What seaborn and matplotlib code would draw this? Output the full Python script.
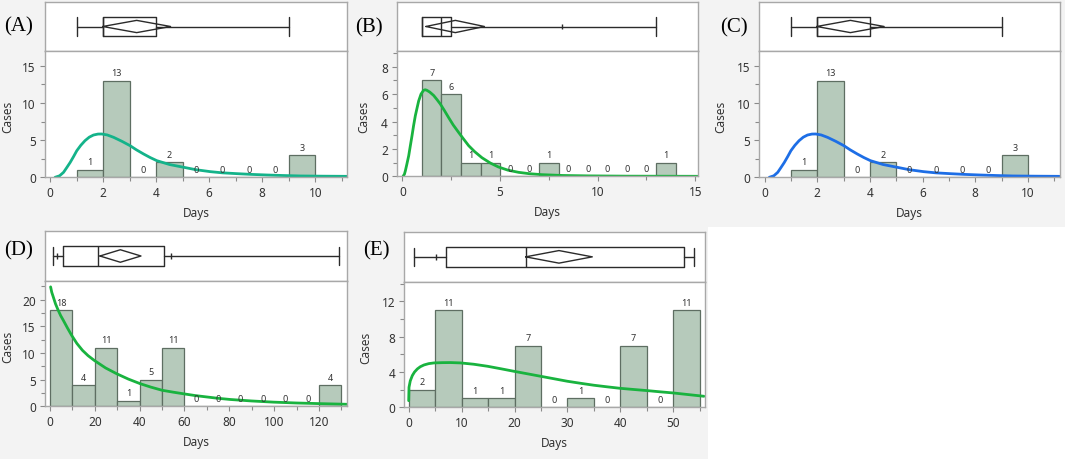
import matplotlib
matplotlib.use("Agg")
import matplotlib.pyplot as plt
from matplotlib.patches import Rectangle
from matplotlib.ticker import MultipleLocator
import seaborn as sns

# ---- values ----
# (A) and (C): same cases, different fitted curve colour
a_edges = [1, 2, 3, 4, 5, 6, 7, 8, 9, 10]
a_counts = [1, 13, 0, 2, 0, 0, 0, 0, 3]
a_curve_x = [0.18, 0.35, 0.5, 0.62, 0.75, 0.88, 1.0, 1.15, 1.31, 1.47, 1.63, 1.8, 1.94, 2.15, 2.39, 2.7,
             3.01, 3.25, 3.52, 3.77, 4.02, 4.5, 5.03, 5.5, 6.04, 6.5, 7.05, 7.6, 8.18, 8.8, 9.43, 10.3, 11.2]
a_curve_y = [0.0, 0.2, 0.67, 1.3, 2.0, 2.8, 3.58, 4.3, 4.93, 5.4, 5.69, 5.82, 5.83, 5.7, 5.38, 4.85,
             4.26, 3.7, 3.14, 2.66, 2.24, 1.72, 1.35, 1.02, 0.76, 0.6, 0.49, 0.39, 0.31, 0.24, 0.18, 0.15, 0.13]
a_box = [1, 2, 2, 4, 9]            # whisker lo, q1, median, q3, whisker hi
a_diamond = [1.98, 3.26, 4.54]     # CI lo, mean, CI hi
a_marks = []

b_edges = [1, 2, 3, 4, 5, 6, 7, 8, 9, 10, 11, 12, 13, 14]
b_counts = [7, 6, 1, 1, 0, 0, 1, 0, 0, 0, 0, 0, 1]
b_curve_x = [0.03, 0.1, 0.15, 0.22, 0.32, 0.4, 0.49, 0.57, 0.66, 0.75, 0.83, 0.95, 1.08, 1.17, 1.25, 1.4,
             1.6, 1.77, 1.94, 2.15, 2.36, 2.6, 2.88, 3.1, 3.39, 3.7, 4.07, 4.5, 4.92, 5.4, 5.95, 6.5,
             7.14, 8.2, 9.53, 11.5, 15.2]
b_curve_y = [0.0, 0.15, 0.41, 0.85, 1.5, 2.2, 2.97, 3.7, 4.43, 5.0, 5.5, 6.0, 6.28, 6.32, 6.28, 6.15,
             5.9, 5.6, 5.28, 4.8, 4.3, 3.75, 3.2, 2.78, 2.24, 1.8, 1.36, 0.97, 0.68, 0.45, 0.29, 0.19,
             0.12, 0.06, 0.03, 0.01, 0.0]
b_box = [1, 1, 2, 2.5, 13]
b_diamond = [1.2, 2.71, 4.2]
b_marks = [8.2]

d_edges = [0, 10, 20, 30, 40, 50, 60, 70, 80, 90, 100, 110, 120, 130]
d_counts = [18, 4, 11, 1, 5, 11, 0, 0, 0, 0, 0, 0, 4]
d_curve_x = [0.3, 0.8, 1.5, 2.5, 3.7, 4.8, 6.0, 7.8, 9.7, 12.0, 14.5, 17.0, 19.8, 24.8, 29.8, 35.0,
             40.2, 45.0, 50.1, 55.0, 60.3, 65.0, 70.0, 75.0, 80.4, 90.0, 99.7, 110.0, 120.5, 132.4]
d_curve_y = [22.4, 21.4, 20.5, 19.2, 18.0, 17.0, 16.1, 14.7, 13.3, 11.8, 10.5, 9.5, 8.6, 7.2, 6.1, 5.1,
             4.25, 3.6, 3.0, 2.65, 2.3, 2.0, 1.75, 1.5, 1.28, 1.0, 0.78, 0.62, 0.5, 0.38]
d_box = [1.2, 6, 21.6, 51, 129]
d_diamond = [22.3, 31.4, 40.6]
d_marks = [3.3, 54]

e_edges = [0, 5, 10, 15, 20, 25, 30, 35, 40, 45, 50, 55]
e_counts = [2, 11, 1, 1, 7, 0, 1, 0, 7, 0, 11]
e_curve_x = [0.0, 0.06, 0.3, 0.69, 1.1, 1.64, 2.2, 2.9, 3.8, 4.8, 6.3, 7.9, 9.8, 12.3, 14.9, 17.4,
             19.9, 22.4, 24.9, 27.5, 30.0, 32.5, 35.0, 37.5, 40.0, 42.5, 45.1, 47.6, 50.1, 53.0, 55.8]
e_curve_y = [0.75, 2.27, 3.0, 3.6, 4.0, 4.35, 4.6, 4.8, 4.95, 5.03, 5.06, 5.07, 5.03, 4.88, 4.65, 4.37,
             4.08, 3.8, 3.52, 3.23, 2.95, 2.72, 2.5, 2.32, 2.15, 2.02, 1.89, 1.75, 1.62, 1.43, 1.25]
e_box = [1, 7, 22.1, 52.1, 54]
e_diamond = [22.1, 28.4, 34.7]
e_marks = [5.2]

W, H = 1065, 460
BAR_FILL = "#b6cabb"
BAR_EDGE = "#5e6e62"
FRAME = "#a8a8a8"
INK = "#2b2b2b"
TXT = "#333333"

sns.set_theme(style="white")
plt.rcParams["font.family"] = ["Noto Sans", "DejaVu Sans"]

fig = plt.figure(figsize=(W / 100, H / 100), dpi=100)
# light grey screenshot background behind the panels
fig.patches.append(Rectangle((0, 1 - 228 / H), 1, 228 / H, transform=fig.transFigure,
                             facecolor="#f3f3f3", edgecolor="none", zorder=-5))
fig.patches.append(Rectangle((0, 0), 708 / W, 232 / H, transform=fig.transFigure,
                             facecolor="#f3f3f3", edgecolor="none", zorder=-5))


def fig_rect(left, top, right, bottom):
    return [left / W, 1 - bottom / H, (right - left) / W, (bottom - top) / H]


def draw_panel(letter, edges, counts, cx, cy, color, box, diamond, marks,
               lay, xlim, ylim, xmaj, xmin, ymaj, ymin, lab_xy, ylab_right):
    left, top, split, right, bottom = lay
    bx = fig.add_axes(fig_rect(left, top, right, split))
    ax = fig.add_axes(fig_rect(left, split, right, bottom))
    bx.set_zorder(2)
    ax.set_zorder(2)

    # box plot strip
    stats = [dict(whislo=box[0], q1=box[1], med=box[2], q3=box[3], whishi=box[4], fliers=[])]
    lp = dict(color=INK, lw=1)
    bx.bxp(stats, positions=[0], widths=0.8, orientation="horizontal", showfliers=False,
           capwidths=0.74, boxprops=lp, whiskerprops=lp, capprops=lp,
           medianprops=lp, manage_ticks=False)
    bx.plot([diamond[0], diamond[1], diamond[2], diamond[1], diamond[0]],
            [0, 0.25, 0, -0.25, 0], color=INK, lw=1)
    if marks:
        bx.vlines(marks, -0.12, 0.12, color=INK, lw=1)
    bx.set_xlim(xlim)
    bx.set_ylim(-1, 1)
    bx.set_xticks([])
    bx.set_yticks([])
    bx.set_facecolor("white")
    for s in bx.spines.values():
        s.set_color(FRAME)
        s.set_linewidth(1)

    # histogram + fitted curve
    sns.histplot(x=edges[:-1], weights=counts, bins=edges, ax=ax, color=BAR_FILL,
                 edgecolor=BAR_EDGE, linewidth=0.9, alpha=1)
    ax.bar_label(ax.containers[0], labels=[str(c) for c in counts], padding=2.5,
                 fontsize=6.5, color=TXT)
    sns.lineplot(x=cx, y=cy, ax=ax, color=color, lw=2, sort=False, estimator=None)
    ax.set_xlim(xlim)
    ax.set_ylim(ylim)
    ax.set_facecolor("white")
    ax.xaxis.set_major_locator(MultipleLocator(xmaj))
    ax.xaxis.set_minor_locator(MultipleLocator(xmin))
    ax.yaxis.set_major_locator(MultipleLocator(ymaj))
    ax.yaxis.set_minor_locator(MultipleLocator(ymin))
    ax.tick_params(which="both", direction="out", color="#8a8a8a", width=0.8,
                   labelcolor=TXT, labelsize=8.5, pad=3, bottom=True, left=True)
    ax.tick_params(which="major", length=3.6)
    ax.tick_params(which="minor", length=3)
    for s in ax.spines.values():
        s.set_color(FRAME)
        s.set_linewidth(1)
    ax.set_xlabel("Days", fontsize=8.5, color=TXT)
    ax.set_ylabel("Cases", fontsize=8.5, color=TXT)
    hw, hh = right - left, bottom - split
    ax.xaxis.set_label_coords(0.5, -29 / hh)
    ax.yaxis.set_label_coords((ylab_right - left) / hw, 0.485)

    fig.text(lab_xy[0] / W, 1 - lab_xy[1] / H, f"({letter})", ha="center", va="center",
             fontsize=15, family="Liberation Serif", color="black", zorder=3)


draw_panel("A", a_edges, a_counts, a_curve_x, a_curve_y, "#14b38a", a_box, a_diamond, a_marks,
           (45, 3, 52, 347, 178.3), (-0.2, 11.2), (0, 17), 2, 1, 5, 2.5, (19, 27), 13.8)
draw_panel("B", b_edges, b_counts, b_curve_x, b_curve_y, "#19b33f", b_box, b_diamond, b_marks,
           (397, 3, 52, 698.3, 177.3), (-0.28, 15.16), (0, 9.15), 5, 2.5, 2, 1, (369, 28), 370.5)
draw_panel("C", a_edges, a_counts, a_curve_x, a_curve_y, "#1d6ee6", a_box, a_diamond, a_marks,
           (759.3, 3, 52, 1059.5, 178.3), (-0.2, 11.2), (0, 17), 2, 1, 5, 2.5, (734, 28), 727)
draw_panel("D", d_edges, d_counts, d_curve_x, d_curve_y, "#19b33f", d_box, d_diamond, d_marks,
           (45, 232, 282, 347, 407.3), (-2.2, 132.5), (0, 23.5), 20, 10, 5, 2.5, (19, 251), 13.8)
draw_panel("E", e_edges, e_counts, e_curve_x, e_curve_y, "#19b33f", e_box, e_diamond, e_marks,
           (404.3, 232.7, 283, 705, 408.3), (-0.83, 56.0), (0, 14.2), 10, 5, 4, 2, (376, 251), 372)

fig.savefig("out.png", dpi=100)
